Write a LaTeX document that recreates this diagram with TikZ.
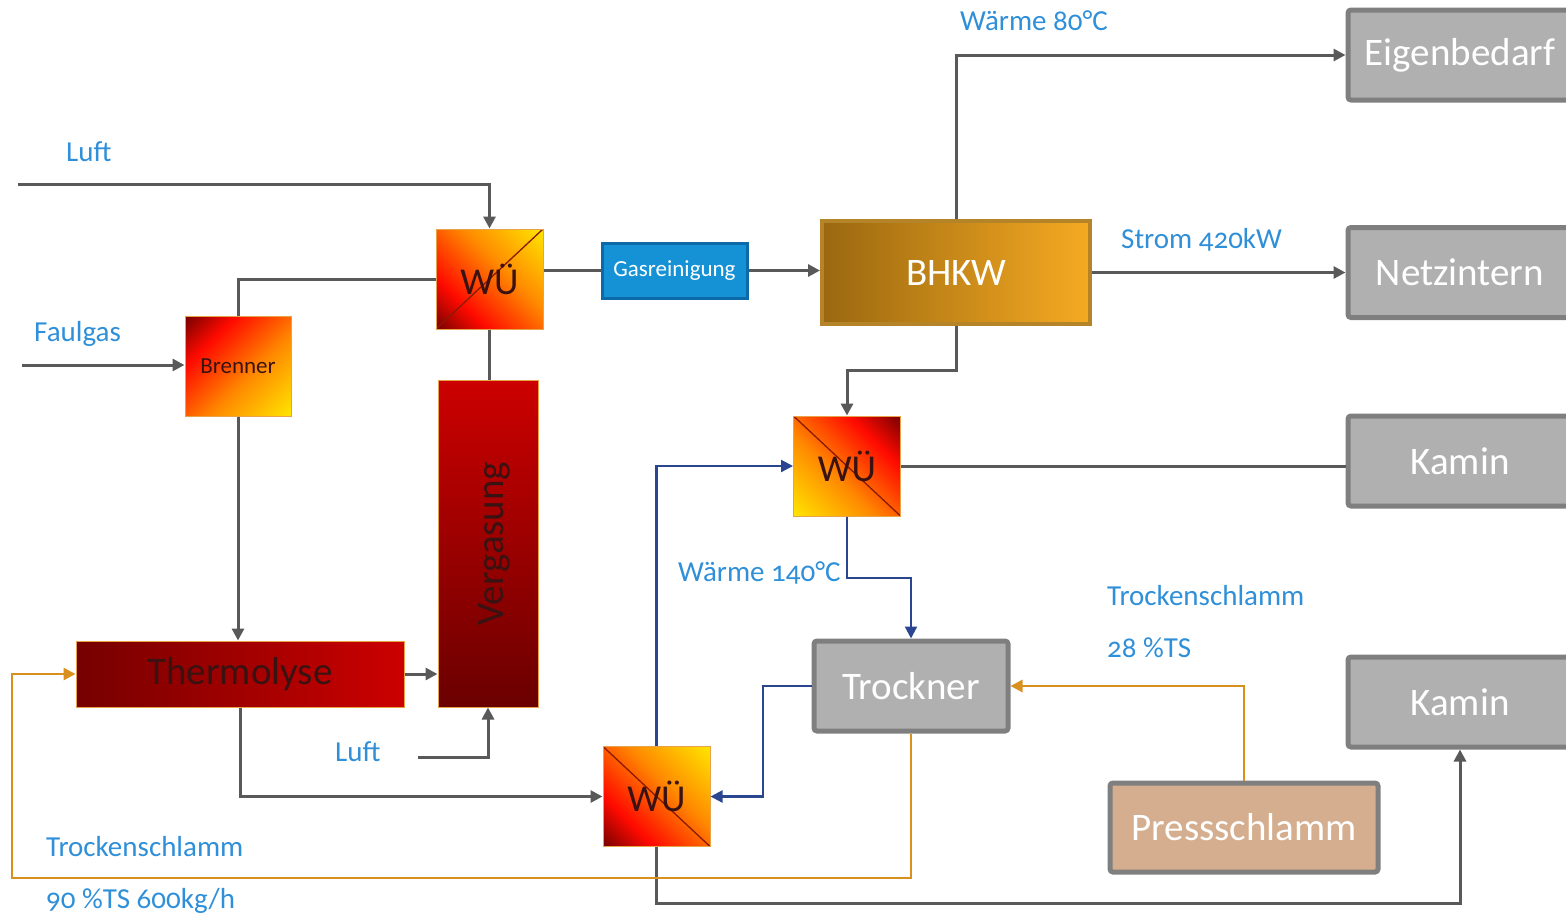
\documentclass[tikz,border=0pt]{standalone}
\usepackage{fontspec}
\setmainfont{Carlito}[Numbers=OldStyle]
\usetikzlibrary{arrows.meta}
\definecolor{lgray}{HTML}{595959}
\definecolor{lblue}{HTML}{2B4690}
\definecolor{lorange}{HTML}{D8901E}
\definecolor{labblue}{HTML}{2F8FD8}
\definecolor{gfill}{HTML}{B0B0B0}
\definecolor{gborder}{HTML}{7F7F7F}
\definecolor{pfill}{HTML}{D4AE8E}
\definecolor{gasfill}{HTML}{1592D6}
\definecolor{gasborder}{HTML}{0C6AA8}
\definecolor{bdark}{HTML}{9A6810}
\definecolor{blight}{HTML}{F6AA22}
\definecolor{bborder}{HTML}{B58428}
\definecolor{fdark}{HTML}{6A0000}
\definecolor{fred}{HTML}{FF0A00}
\definecolor{forange}{HTML}{FF8A00}
\definecolor{fyellow}{HTML}{FFE400}
\definecolor{tdark}{HTML}{760000}
\definecolor{tred}{HTML}{CC0000}
\definecolor{firetext}{HTML}{3A1212}
\definecolor{fireborder}{HTML}{E8A34A}
\definecolor{diagc}{HTML}{8A1A00}
\pgfdeclarehorizontalshading{fire}{100bp}{color(0bp)=(fdark); color(13bp)=(fdark); color(32bp)=(fred); color(58bp)=(forange); color(85bp)=(fyellow); color(100bp)=(fyellow)}
\begin{document}
\begin{tikzpicture}[x=1pt,y=-1pt,
 line/.style={draw=lgray, line width=3pt},
 arr/.style={line, -{Triangle[length=12pt,width=12pt]}},
 bline/.style={draw=lblue, line width=2.2pt},
 barr/.style={bline, -{Triangle[length=12pt,width=12pt]}},
 oline/.style={draw=lorange, line width=2.8pt},
 oarr/.style={oline, -{Triangle[length=12pt,width=12pt]}},
 lab/.style={text=labblue, font=\fontsize{29}{34}\selectfont, anchor=base west, inner sep=0pt},
 graybox/.style={fill=gfill, draw=gborder, line width=5pt, rounded corners=3pt, text=white, font=\fontsize{39}{44}\selectfont, minimum width=224pt, minimum height=90pt, inner sep=0pt},
 firebox/.style={shading=fire, draw=fireborder, line width=1pt, text=firetext, minimum width=107pt, minimum height=100pt, inner sep=0pt, font=\fontsize{38}{42}\selectfont},
 diagup/.style={path picture={\draw[diagc, line width=1.3pt] (path picture bounding box.south west) -- (path picture bounding box.north east);}},
 diagdown/.style={path picture={\draw[diagc, line width=1.3pt] (path picture bounding box.north west) -- (path picture bounding box.south east);}},
]
\useasboundingbox (0,0) rectangle (1566,914);
% right gray boxes
\node[graybox] (eig) at (1460,55) {Eigenbedarf};
\node[graybox] (netz) at (1460,272.5) {Netzintern};
\node[graybox] (kam1) at (1460,461) {Kamin};
\node[graybox] (kam2) at (1460,702) {Kamin};
\node[graybox, minimum width=194pt] (tr) at (911,686) {Trockner};
\node[graybox, fill=pfill, minimum width=268pt, minimum height=89pt] (pr) at (1244,827.5) {Pressschlamm};
% process boxes
\node[fill=gasfill, draw=gasborder, line width=3pt, text=white, minimum width=145pt, minimum height=55pt, inner sep=0pt, font=\fontsize{23}{26}\selectfont] (gas) at (674.5,270.5) {Gasreinigung};
\node[left color=bdark, right color=blight, draw=bborder, line width=4pt, text=white, minimum width=268pt, minimum height=103pt, inner sep=0pt, font=\fontsize{39}{44}\selectfont] (bhkw) at (956,272.5) {BHKW};
\node[firebox, shading angle=45, diagup] (w1) at (489.5,279) {WÜ};
\node[firebox, shading angle=-135, diagdown] (w2) at (847,466) {WÜ};
\node[firebox, shading angle=45, diagdown] (w3) at (656.5,796.5) {WÜ};
\node[firebox, shading angle=-45, minimum width=106pt, font=\fontsize{23}{26}\selectfont] (br) at (238,366) {Brenner};
\node[left color=tdark, right color=tred, draw=fireborder, line width=1pt, text=firetext, minimum width=328pt, minimum height=66pt, inner sep=0pt, font=\fontsize{39}{44}\selectfont] (th) at (240,674) {Thermolyse};
\node[top color=tred, bottom color=tdark!90!black, draw=fireborder, line width=1pt, minimum width=100pt, minimum height=327pt, inner sep=0pt] (vg) at (488,543.5) {};
\node[rotate=90, text=firetext, font=\fontsize{39}{44}\selectfont, inner sep=0pt] (vgt) at ([xshift=6pt]vg.center) {Vergasung};
% gray connectors
\coordinate (luftA) at (18,184);
\draw[arr] (luftA) -| (w1.north);
\draw[line] (w1.west) -| (br.north);
\coordinate (faulA) at (22,365);
\draw[arr] (faulA) -- (faulA -| br.west);
\draw[arr] (br.south) -- (br.south |- th.north);
\draw[line] (w1.south) -- (w1.south |- vg.north);
\draw[line] (w1.east |- gas.west) -- (gas.west);
\draw[arr] (gas.east) -- (gas.east -| bhkw.west);
\draw[arr] (bhkw.north) |- (eig.west);
\draw[arr] (bhkw.east) -- (bhkw.east -| netz.west);
\coordinate (bk) at (956,370);
\draw[arr] (bhkw.south) -- (bk) -| (w2.north);
\draw[line] (w2.east) -- (w2.east -| kam1.west);
\draw[arr] (th.east) -- (th.east -| vg.west);
\coordinate (luftB) at (418,757);
\draw[arr] (luftB) -| (vg.south);
\draw[arr] (th.south) |- (w3.west);
\coordinate (k2) at (1460,903);
\draw[arr] (w3.south) |- (k2) -- (kam2.south);
% blue connectors
\draw[barr] (w3.north) |- (w2.west);
\coordinate (wb) at (847,578);
\draw[barr] (w2.south) -- (wb) -| (tr.north);
\coordinate (tb) at (763,686);
\draw[barr] (tr.west) -- (tb) |- (w3.east);
% orange connectors
\draw[oarr] (pr.north) |- (tr.east);
\coordinate (ob) at (911,878);
\coordinate (ol) at (12,878);
\draw[oarr] (tr.south) -- (ob) -- (ol) |- (th.west);
% labels
\node[lab] (l1) at (960,30) {Wärme 80°C};
\node[lab] (l2) at (66,161) {Luft};
\node[lab] (l3) at (34,341) {Faulgas};
\node[lab] (l4) at (1121,248) {Strom 420kW};
\node[lab] (l5) at (678,581) {Wärme 140°C};
\node[lab] (l6) at (1107,605) {Trockenschlamm};
\node[lab] (l7) at (1107,657) {28 \%TS};
\node[lab] (l8) at (335,761) {Luft};
\node[lab] (l9) at (46,856) {Trockenschlamm};
\node[lab] (l10) at (46,908) {90 \%TS 600kg/h};
\end{tikzpicture}
\end{document}
